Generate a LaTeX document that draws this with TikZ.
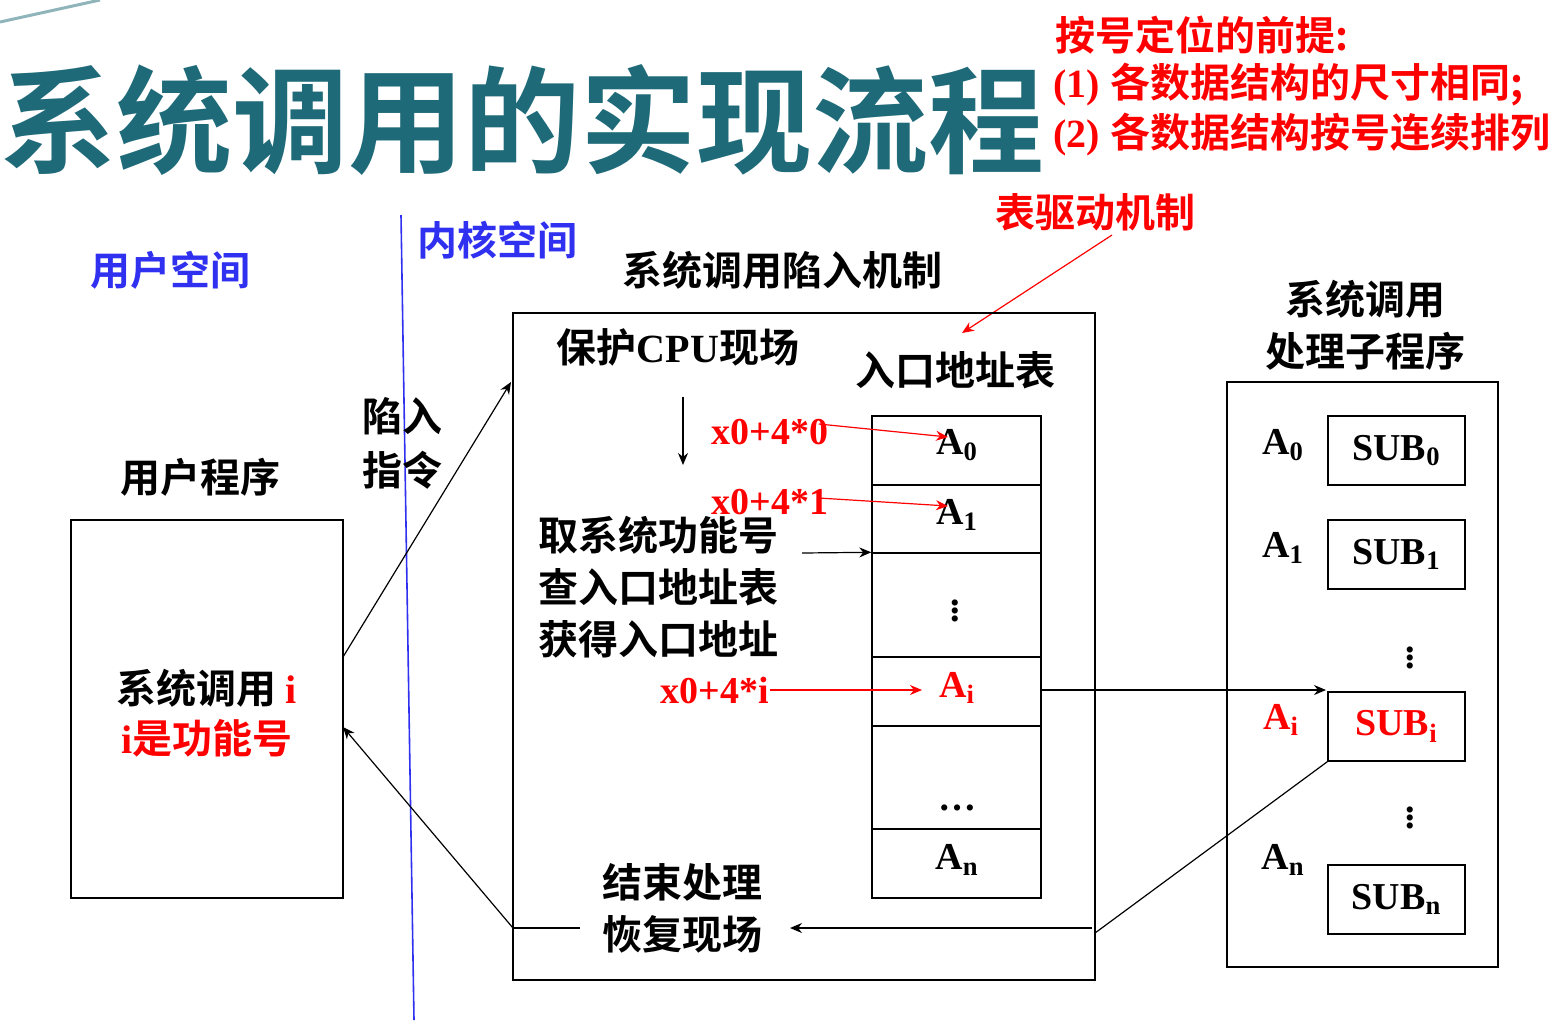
\documentclass[tikz,border=0pt]{standalone}
\usepackage{fontspec}
\setmainfont{Liberation Serif}[BoldFont={Liberation Serif Bold}]
\newfontfamily\cjk{Noto Sans CJK SC}[BoldFont={Noto Sans CJK SC Bold}]
\usetikzlibrary{arrows.meta}
\definecolor{teal1}{HTML}{1E6A78}
\definecolor{ublue}{HTML}{3030F0}
\tikzset{
 t/.style={font=\fontsize{20}{23}\selectfont\bfseries\cjk, inner sep=0pt, align=center},
 lat/.style={font=\fontsize{19}{22}\selectfont\bfseries, inner sep=0pt},
 rt/.style={t, text=red},
 box/.style={draw, line width=0.7pt},
 arr/.style={-{Stealth[length=6pt,width=5pt]}, line width=0.6pt},
 rarr/.style={arr, red},
}
\begin{document}
\begin{tikzpicture}[x=0.5pt,y=-0.5pt]
\useasboundingbox (0,0) rectangle (1563,1024);
\draw[teal1!50, line width=1.5pt] (0,22) -- (100,0);
% title
\node[font=\fontsize{58}{60}\selectfont\bfseries\cjk, text=teal1, anchor=west, inner sep=0pt] (title) at (0,120) {系统调用的实现流程};
\node[rt, anchor=west] (p0) at (1055,35) {按号定位的前提:};
\node[rt, anchor=west] (p1) at (1053,85) {\rmfamily (1) \cjk 各数据结构的尺寸相同;};
\node[rt, anchor=west] (p2) at (1053,135) {\rmfamily (2) \cjk 各数据结构按号连续排列};
\node[rt] (tbl) at (1095,212) {表驱动机制};
\coordinate (tblf) at (1112,235);
\coordinate (tblt) at (962,333);
\draw[rarr] (tblf) -- (tblt);
% space divider
\coordinate (d1) at (401,215); \coordinate (d2) at (414,1020);
\draw[ublue, line width=0.8pt] (d1) -- (d2);
\node[t, text=ublue] (us) at (170,270) {用户空间};
\node[t, text=ublue] (ks) at (497,240) {内核空间};
% user program
\node[t] (upt) at (200,477) {用户程序};
\node[box, minimum width=136pt, minimum height=189pt, inner sep=0pt] (ubox) at (207,709) {};
\node[t] (sc) at (207,688) {系统调用 {\rmfamily\color{red} i}};
\node[rt] (fn) at (207,738) {{\rmfamily i}是功能号};
\node[t] (trap) at (402,443) {陷入\\[4pt]指令};
% kernel box
\node[t] (mech) at (782,270) {系统调用陷入机制};
\node[box, minimum width=291pt, minimum height=333.5pt, inner sep=0pt] (kbox) at (804,646.5) {};
\node[t] (save) at (678,347) {保护{\rmfamily CPU}现场};
\node[t] (ent) at (955,370) {入口地址表};
\coordinate (da) at (683,397); \coordinate (db) at (683,465);
\draw[arr] (da) -- (db);
% table
\foreach \ya/\yb/\n in {416/485/r0,485/553/r1,553/657/r2,657/726/r3,726/829/r4,829/898/r5}{
  \node[box, minimum width=84.5pt, minimum height={(\yb-\ya)*0.5pt}, inner sep=0pt] (\n) at (956.5,{(\ya+\yb)/2}) {};
}
\node[lat] (a0) at (957,445) {A$_\mathbf{0}$};
\node[lat] (a1) at (957,515) {A$_\mathbf{1}$};
\node[lat] (vd) at (955,605) {$\vdots$};
\node[lat, text=red] (ai) at (957,688) {A$_\mathbf{i}$};
\node[lat] (hd) at (957,808) {…};
\node[lat] (an) at (957,860) {A$_\mathbf{n}$};
\node[lat, text=red] (x0) at (770,432) {x0+4*0};
\node[lat, text=red] (x1) at (770,502) {x0+4*1};
\node[lat, text=red] (xi) at (715,690) {x0+4*i};
\coordinate (x0t) at (948,437); \coordinate (x1t) at (948,506); \coordinate (xit) at (922,690);
\draw[rarr] (x0.east) ++(-5pt,4pt) -- (x0t);
\draw[rarr] (x1.east) ++(-5pt,2pt) -- (x1t);
\draw[rarr] (xi.east) -- (xit);
\node[t, anchor=west, align=left] (get) at (538,587) {取系统功能号\\[3pt]查入口地址表\\[3pt]获得入口地址};
\coordinate (ga) at (802,553);
\draw[arr] (ga) -- (r2.north west);
\node[t] (end) at (682,908) {结束处理\\[3pt]恢复现场};
\coordinate (k1) at (513,928); \coordinate (k2) at (580,928);
\coordinate (k3) at (1092,928); \coordinate (k4) at (790,928);
\draw[line width=0.6pt] (k1) -- (k2);
\draw[arr] (k3) -- (k4);
% trap arrows
\coordinate (u1) at (343,657); \coordinate (kin) at (511,382);
\coordinate (u2) at (343,727);
\draw[arr] (u1) -- (kin);
\draw[arr] (k1) -- (u2);
% right box
\node[t] (rt) at (1365,325) {系统调用\\[3pt]处理子程序};
\node[box, minimum width=135.5pt, minimum height=292.5pt, inner sep=0pt] (rbox) at (1362.5,674.5) {};
\foreach \ya/\n in {416/s0,520/s1,692/si,865/sn}{
  \node[box, minimum width=68.5pt, minimum height=34.5pt, inner sep=0pt] (\n) at (1396.5,{\ya+34.5}) {};
}
\node[lat] at (s0) {SUB$_\mathbf{0}$};
\node[lat] at (s1) {SUB$_\mathbf{1}$};
\node[lat, text=red] at (si) {SUB$_\mathbf{i}$};
\node[lat] at (sn) {SUB$_\mathbf{n}$};
\node[lat] (b0) at (1283,445) {A$_\mathbf{0}$};
\node[lat] (b1) at (1283,548) {A$_\mathbf{1}$};
\node[lat, text=red] (bi) at (1281,720) {A$_\mathbf{i}$};
\node[lat] (bn) at (1283,860) {A$_\mathbf{n}$};
\node[lat] (v1) at (1410,652) {$\vdots$};
\node[lat] (v2) at (1410,812) {$\vdots$};
\coordinate (ar) at (1041,690); \coordinate (sit) at (1326,690);
\draw[arr] (ar) -- (sit);
\coordinate (rb) at (1095,933);
\draw[line width=0.6pt] (rb) -- (si.south west);
\end{tikzpicture}
\end{document}
